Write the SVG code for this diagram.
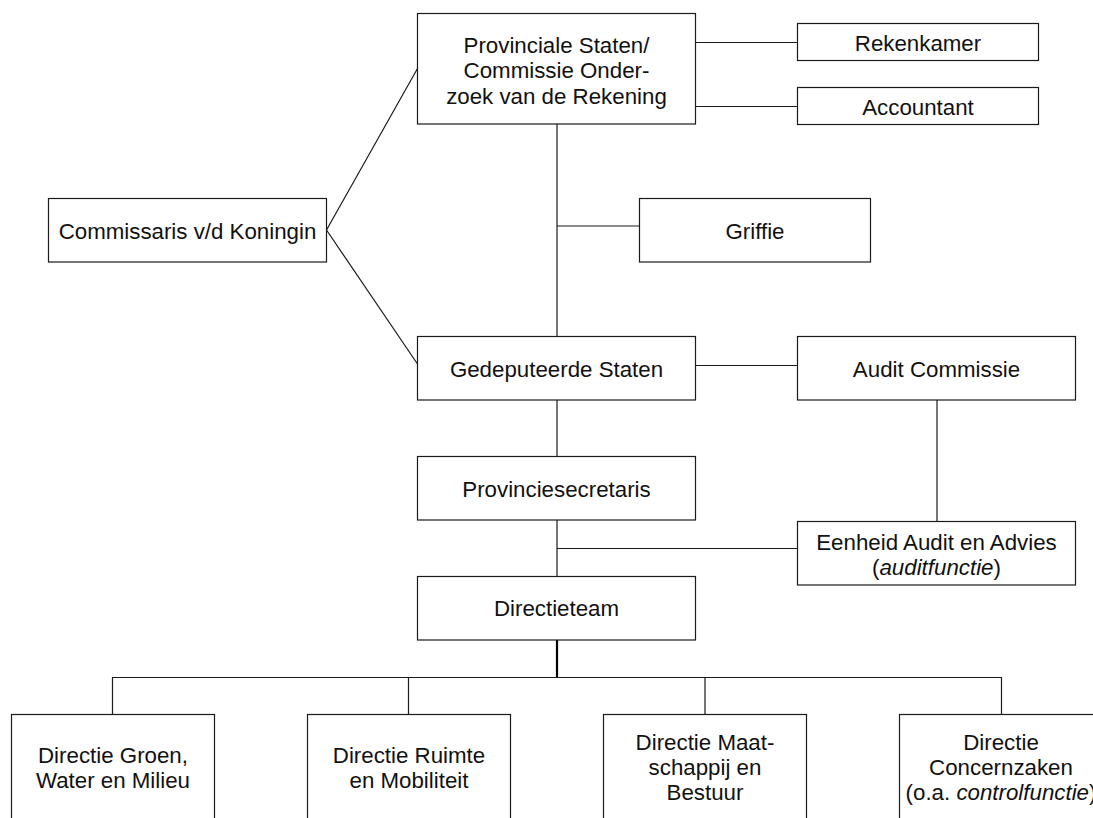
<svg xmlns="http://www.w3.org/2000/svg" width="1093" height="818" viewBox="0 0 1093 818">
<style>
.box{fill:#fff;stroke:#1a1a1a;stroke-width:1.2}
.t{font-family:"Liberation Sans",Arial,Helvetica,sans-serif;font-size:22.3px;fill:#111;text-anchor:middle}
.i{font-style:italic}
.c{stroke:#1a1a1a;stroke-width:1.2;fill:none}
.thick{stroke:#000;stroke-width:2.2;fill:none}
</style>
<rect width="1093" height="818" fill="#fff"/>
<g id="connectors">
<path class="c" d="M696 42.5H797.5M696 106.5H797.5"/>
<path class="c" d="M326.5 230L417.5 68.5M326.5 230L417.5 364"/>
<path class="c" d="M557 124V336M557 226H639.5"/>
<path class="c" d="M696 365.5H797.5"/>
<path class="c" d="M937 400V521"/>
<path class="c" d="M557 400V456M557 520V576M557 548.5H797.5"/>
<path class="thick" d="M557 640V677.5"/>
<path class="c" d="M112.5 714V677.5H1001.5V714M408.5 677.5V714M705 677.5V714"/>
</g>
<g id="provinciale-staten">
<rect class="box" x="417.5" y="13.5" width="278" height="110.5"/>
<text class="t" x="556.5" y="53">Provinciale Staten/</text>
<text class="t" x="556.5" y="78">Commissie Onder-</text>
<text class="t" x="556.5" y="103.5">zoek van de Rekening</text>
</g>
<g id="rekenkamer">
<rect class="box" x="797.5" y="23.5" width="241" height="37"/>
<text class="t" x="918" y="50.5">Rekenkamer</text>
</g>
<g id="accountant">
<rect class="box" x="797.5" y="87.5" width="241" height="37"/>
<text class="t" x="918" y="114.5">Accountant</text>
</g>
<g id="commissaris">
<rect class="box" x="48.5" y="198.5" width="278" height="63.5"/>
<text class="t" x="187.5" y="239">Commissaris v/d Koningin</text>
</g>
<g id="griffie">
<rect class="box" x="639.5" y="198.5" width="231" height="63.5"/>
<text class="t" x="755" y="239">Griffie</text>
</g>
<g id="gedeputeerde-staten">
<rect class="box" x="417.5" y="336.5" width="278" height="63.5"/>
<text class="t" x="556.5" y="377">Gedeputeerde Staten</text>
</g>
<g id="audit-commissie">
<rect class="box" x="797.5" y="336.5" width="278" height="63.5"/>
<text class="t" x="936.5" y="377">Audit Commissie</text>
</g>
<g id="provinciesecretaris">
<rect class="box" x="417.5" y="456.5" width="278" height="63.5"/>
<text class="t" x="556.5" y="497">Provinciesecretaris</text>
</g>
<g id="eenheid-audit">
<rect class="box" x="797.5" y="521.5" width="278" height="63.5"/>
<text class="t" x="936.5" y="550">Eenheid Audit en Advies</text>
<text class="t" x="936.5" y="575">(<tspan class="i">auditfunctie</tspan>)</text>
</g>
<g id="directieteam">
<rect class="box" x="417.5" y="576.5" width="278" height="63.5"/>
<text class="t" x="556.5" y="616">Directieteam</text>
</g>
<g id="directie-groen">
<rect class="box" x="11.5" y="714.5" width="203" height="120"/>
<text class="t" x="113" y="762.5">Directie Groen,</text>
<text class="t" x="113" y="787.5">Water en Milieu</text>
</g>
<g id="directie-ruimte">
<rect class="box" x="307.5" y="714.5" width="203" height="120"/>
<text class="t" x="409" y="762.5">Directie Ruimte</text>
<text class="t" x="409" y="787.5">en Mobiliteit</text>
</g>
<g id="directie-maatschappij">
<rect class="box" x="603.5" y="714.5" width="203" height="120"/>
<text class="t" x="705" y="749.5">Directie Maat-</text>
<text class="t" x="705" y="774.5">schappij en</text>
<text class="t" x="705" y="800">Bestuur</text>
</g>
<g id="directie-concernzaken">
<rect class="box" x="899.5" y="714.5" width="203" height="120"/>
<text class="t" x="1001" y="749.5">Directie</text>
<text class="t" x="1001" y="774.5">Concernzaken</text>
<text class="t" x="1001" y="800">(o.a. <tspan class="i">controlfunctie</tspan>)</text>
</g>
</svg>
